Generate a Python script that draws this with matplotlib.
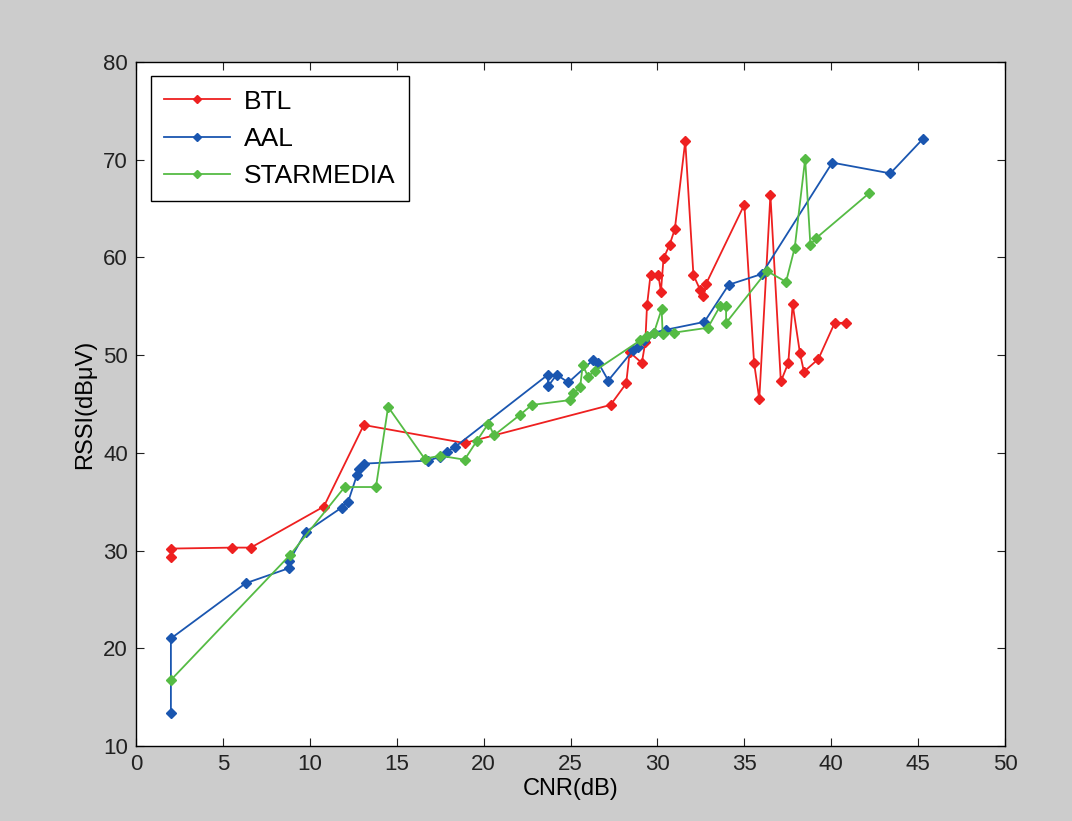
import matplotlib
matplotlib.use("Agg")
import matplotlib.pyplot as plt

plt.rcParams['font.family'] = ['Liberation Sans', 'DejaVu Sans']

# CNR (dB) / RSSI (dBuV) measurements per network
btl_cnr = [2.0, 2.0, 5.5, 6.6, 10.8, 13.1, 18.9, 27.3, 28.2, 28.4, 29.1, 29.3,
           29.4, 29.6, 30.05, 30.2, 30.35, 30.7, 31.0, 31.6, 32.07, 32.45,
           32.64, 32.8, 35.0, 35.56, 35.86, 36.5, 37.1, 37.53, 37.78, 38.2,
           38.43, 39.26, 40.2, 40.85]
btl_rssi = [29.3, 30.2, 30.3, 30.3, 34.5, 42.85, 41.0, 44.9, 47.1, 50.3, 49.2,
            51.3, 55.1, 58.2, 58.2, 56.5, 59.9, 61.3, 62.9, 71.9, 58.2, 56.7,
            56.0, 57.3, 65.4, 49.2, 45.5, 66.4, 47.3, 49.2, 55.2, 50.2, 48.3,
            49.6, 53.3, 53.3]

aal_cnr = [2.0, 2.0, 6.3, 8.8, 8.8, 9.76, 11.83, 12.2, 12.7, 12.85, 13.14,
           16.8, 17.5, 17.87, 18.35, 23.7, 23.7, 24.2, 24.87, 26.3, 26.6,
           27.17, 28.6, 28.9, 29.2, 29.8, 30.5, 32.7, 34.1, 36.0, 40.06, 43.4,
           45.26]
aal_rssi = [13.35, 21.0, 26.65, 28.2, 28.9, 31.9, 34.4, 35.0, 37.7, 38.3, 38.9,
            39.2, 39.6, 40.1, 40.6, 48.0, 46.8, 48.0, 47.2, 49.5, 49.2, 47.4,
            50.5, 50.8, 51.5, 52.3, 52.6, 53.4, 57.2, 58.3, 69.7, 68.6, 72.1]

star_cnr = [2.0, 8.86, 12.0, 13.8, 14.5, 16.6, 17.5, 18.9, 19.6, 20.27, 20.6,
            22.1, 22.77, 24.97, 25.16, 25.55, 25.7, 26.0, 26.4, 29.0, 29.4,
            29.8, 30.24, 30.3, 30.95, 32.9, 33.6, 33.95, 33.95, 36.3, 37.4,
            37.9, 38.5, 38.8, 39.15, 42.2]
star_rssi = [16.75, 29.55, 36.5, 36.5, 44.7, 39.4, 39.7, 39.3, 41.2, 43.0, 41.8,
             43.9, 44.9, 45.4, 46.1, 46.7, 49.0, 47.8, 48.4, 51.5, 52.0, 52.3,
             54.7, 52.2, 52.3, 52.8, 55.0, 55.0, 53.3, 58.6, 57.5, 61.0, 70.1,
             61.3, 62.0, 66.6]

fig = plt.figure(figsize=(10.72, 8.21), dpi=100, facecolor='#cccccc')
ax = fig.add_axes([0.127, 0.0914, 0.8105, 0.8331])

style = dict(marker='D', markersize=5, linewidth=1.3)
ax.plot(btl_cnr, btl_rssi, color='#ee2020', label='BTL', **style)
ax.plot(aal_cnr, aal_rssi, color='#1a56b0', label='AAL', **style)
ax.plot(star_cnr, star_rssi, color='#55bb44', label='STARMEDIA', **style)

ax.set_xlim(0, 50)
ax.set_ylim(10, 80)
ax.set_xticks(range(0, 51, 5))
ax.set_yticks(range(10, 81, 10))
ax.tick_params(direction='in', top=True, right=True, labelsize=16, length=6,
               pad=6, colors='#222222')
for s in ax.spines.values():
    s.set_linewidth(1.0)
ax.set_xlabel('CNR(dB)', fontsize=17, labelpad=2)
ax.set_ylabel('RSSI(dBμV)', fontsize=17, labelpad=5)

leg = ax.legend(loc='upper left', fontsize=19, fancybox=False, framealpha=1,
                edgecolor='black', handlelength=2.5, handletextpad=0.55,
                borderpad=0.5, labelspacing=0.5, borderaxespad=0.55,
                markerscale=0.8)
leg.get_frame().set_linewidth(1.0)

fig.savefig('out.png', dpi=100, facecolor=fig.get_facecolor())
